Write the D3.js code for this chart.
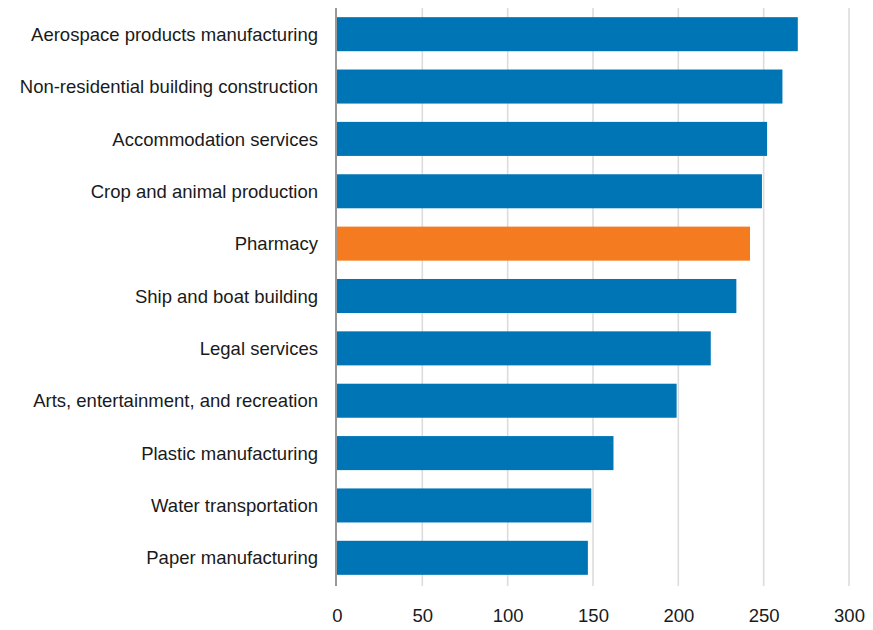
<!DOCTYPE html>
<html><head><meta charset="utf-8">
<script src="https://cdn.jsdelivr.net/npm/d3@7"></script>
<style>body{margin:0;background:#fff}text{font-family:"Liberation Sans",Arial,sans-serif}</style>
</head><body><svg id="c" width="873" height="630"></svg>
<script>
const categories = ["Aerospace products manufacturing","Non-residential building construction","Accommodation services","Crop and animal production","Pharmacy","Ship and boat building","Legal services","Arts, entertainment, and recreation","Plastic manufacturing","Water transportation","Paper manufacturing"];
const values = [270, 261, 252, 249, 242, 234, 219, 199, 162, 149, 147];
const highlight = ["Pharmacy"];
const xTicks = [0, 50, 100, 150, 200, 250, 300];

const svg = d3.select("#c");
const x = d3.scaleLinear().domain([0, 300]).range([337, 849]);
const y = d3.scaleBand().domain(categories).range([8, 584]).paddingInner(0.35).paddingOuter(0.175);

// gridlines
svg.append("g").selectAll("line").data(xTicks.slice(1)).join("line")
  .attr("x1", d => x(d)).attr("x2", d => x(d)).attr("y1", 8).attr("y2", 586)
  .attr("stroke", "#dcdcdc").attr("stroke-width", 1.6);

// bars
svg.append("g").selectAll("rect").data(categories).join("rect")
  .attr("x", x(0)).attr("y", d => y(d))
  .attr("width", (d, i) => x(values[i]) - x(0)).attr("height", y.bandwidth())
  .attr("fill", d => highlight.includes(d) ? "#f47b20" : "#0075b6");

// axis line
svg.append("line").attr("x1", 336).attr("x2", 336).attr("y1", 8).attr("y2", 586)
  .attr("stroke", "#999").attr("stroke-width", 2);

// y axis labels
const ya = svg.append("g").attr("transform", "translate(337,0)")
  .call(d3.axisLeft(y).tickSize(0).tickPadding(19));
ya.select(".domain").remove();
ya.selectAll("text").attr("font-size", 18.5).attr("dy", "0.36em").attr("fill", "#1a1a1a").style("font-family", "'Liberation Sans',Arial,sans-serif");

// x axis labels
const xa = svg.append("g").attr("transform", "translate(0,601)")
  .call(d3.axisBottom(x).tickValues(xTicks).tickSize(0).tickPadding(8));
xa.select(".domain").remove();
xa.selectAll("text").attr("font-size", 18.5).attr("fill", "#1a1a1a").style("font-family", "'Liberation Sans',Arial,sans-serif");
</script></body></html>
